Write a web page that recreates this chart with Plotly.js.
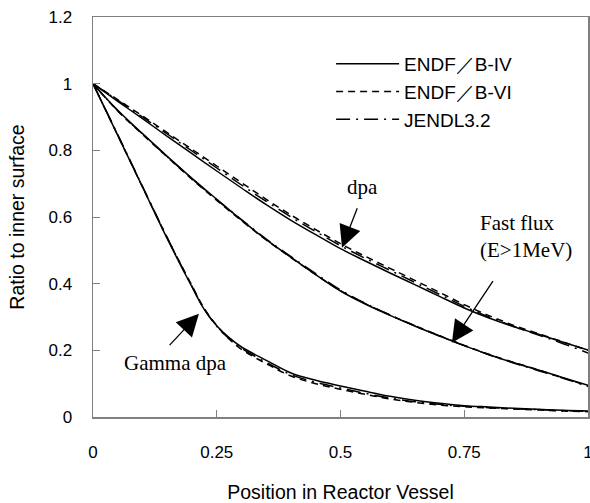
<!DOCTYPE html>
<html>
<head>
<meta charset="utf-8">
<script src="https://cdn.plot.ly/plotly-3.0.1.min.js"></script>
<style>html,body{margin:0;padding:0;background:#fff;}#chart{width:590px;height:503px;}</style>
</head>
<body>
<div id="chart"></div>
<script>
// Positions (normalized) for each quantity
const xDpa  = [0, 0.05, 0.1, 0.15, 0.2, 0.25, 0.3, 0.35, 0.4, 0.45, 0.5, 0.55, 0.6, 0.65, 0.7, 0.75, 0.8, 0.85, 0.9, 0.95, 1.0];
const xFlux = [0, 0.05, 0.1, 0.15, 0.2, 0.25, 0.3, 0.35, 0.4, 0.45, 0.5, 0.55, 0.6, 0.65, 0.7, 0.75, 0.8, 0.85, 0.9, 0.95, 1.0];
const xGamma = [0, 0.05, 0.1, 0.15, 0.2, 0.225, 0.25, 0.275, 0.3, 0.35, 0.4, 0.45, 0.5, 0.55, 0.6, 0.65, 0.7, 0.75, 0.8, 0.85, 0.9, 0.95, 1.0];

// dpa
const dpaB4  = [1, 0.947, 0.895, 0.842, 0.79, 0.738, 0.687, 0.637, 0.59, 0.547, 0.505, 0.468, 0.432, 0.397, 0.362, 0.327, 0.297, 0.271, 0.248, 0.224, 0.201];
const dpaB6  = [1, 0.952, 0.903, 0.853, 0.803, 0.753, 0.703, 0.653, 0.606, 0.562, 0.52, 0.482, 0.446, 0.41, 0.374, 0.337, 0.304, 0.275, 0.25, 0.225, 0.2];
const dpaJ32 = [1, 0.95, 0.9, 0.849, 0.798, 0.747, 0.696, 0.647, 0.6, 0.556, 0.514, 0.476, 0.44, 0.404, 0.368, 0.332, 0.3, 0.272, 0.246, 0.22, 0.192];

// Fast flux (E>1MeV)
const fluxB4  = [1, 0.92, 0.85, 0.782, 0.716, 0.653, 0.591, 0.532, 0.479, 0.427, 0.378, 0.339, 0.305, 0.273, 0.243, 0.214, 0.187, 0.163, 0.141, 0.118, 0.095];
const fluxB6  = [1, 0.918, 0.848, 0.78, 0.713, 0.65, 0.589, 0.531, 0.478, 0.427, 0.379, 0.34, 0.306, 0.274, 0.244, 0.215, 0.188, 0.164, 0.141, 0.117, 0.093];
const fluxJ32 = [1, 0.919, 0.849, 0.781, 0.715, 0.652, 0.592, 0.534, 0.481, 0.43, 0.381, 0.341, 0.306, 0.274, 0.243, 0.214, 0.187, 0.162, 0.139, 0.116, 0.092];

// Gamma dpa
const gamB4  = [1, 0.845, 0.69, 0.535, 0.39, 0.322, 0.274, 0.238, 0.21, 0.17, 0.132, 0.11, 0.093, 0.077, 0.062, 0.05, 0.041, 0.034, 0.03, 0.026, 0.023, 0.02, 0.018];
const gamB6  = [1, 0.845, 0.69, 0.537, 0.394, 0.325, 0.274, 0.234, 0.203, 0.16, 0.123, 0.1, 0.083, 0.068, 0.054, 0.044, 0.036, 0.031, 0.027, 0.024, 0.021, 0.018, 0.016];
const gamJ32 = [1, 0.847, 0.692, 0.538, 0.392, 0.323, 0.272, 0.235, 0.206, 0.164, 0.127, 0.104, 0.087, 0.071, 0.057, 0.046, 0.038, 0.032, 0.028, 0.025, 0.022, 0.019, 0.017];

const libNames = ['ENDF\uFF0FB-IV', 'ENDF\uFF0FB-VI', 'JENDL3.2'];
const xTicks = [0, 0.25, 0.5, 0.75, 1];
const xTickText = ['0', '0.25', '0.5', '0.75', '1'];
const yTicks = [0, 0.2, 0.4, 0.6, 0.8, 1, 1.2];
const yTickText = ['0', '0.2', '0.4', '0.6', '0.8', '1', '1.2'];

const dashes = ['solid', '7px,5px', '14px,6px,2px,6px'];
const groups = [
  {x: xDpa, ys: [dpaB4, dpaB6, dpaJ32], legend: true},
  {x: xFlux, ys: [fluxB4, fluxB6, fluxJ32], legend: false},
  {x: xGamma, ys: [gamB4, gamB6, gamJ32], legend: false}
];

const traces = [];
groups.forEach(g => {
  g.ys.forEach((y, i) => {
    traces.push({
      x: g.x, y: y, type: 'scatter', mode: 'lines',
      name: libNames[i], legendgroup: libNames[i], showlegend: g.legend,
      line: {color: '#000', width: 1.5, dash: dashes[i], shape: 'spline', smoothing: 1},
      hoverinfo: 'skip'
    });
  });
});

const serif = {family: 'Liberation Serif, Times New Roman, serif', size: 21, color: '#000'};
const arrowBase = {text: '', showarrow: true, arrowhead: 2, arrowsize: 3.4, arrowwidth: 1.3,
  arrowcolor: '#000', xref: 'x', yref: 'y', axref: 'x', ayref: 'y', standoff: 0, startstandoff: 0};

const layout = {
  width: 590, height: 503,
  paper_bgcolor: '#fff', plot_bgcolor: '#fff',
  margin: {l: 93, r: 2, t: 17, b: 86},
  font: {family: 'Liberation Sans, Arial, sans-serif', size: 17, color: '#000'},
  showlegend: true,
  legend: {
    x: 0.481, y: 0.93, xanchor: 'left', yanchor: 'top',
    bgcolor: 'rgba(0,0,0,0)', borderwidth: 0,
    font: {family: 'Liberation Sans, Arial, sans-serif', size: 19, color: '#000'},
    itemwidth: 63, traceorder: 'normal'
  },
  xaxis: {
    range: [0, 1], tickvals: xTicks, ticktext: xTickText,
    ticks: 'inside', ticklen: 7, tickcolor: '#808080', tickwidth: 1,
    showline: true, linecolor: '#808080', linewidth: 1.5, mirror: true,
    showgrid: false, zeroline: false, ticklabelstandoff: 19, ticklabeloverflow: 'allow',
    title: {text: 'Position in Reactor Vessel', font: {size: 19.5}, standoff: 26}
  },
  yaxis: {
    range: [0, 1.2], tickvals: yTicks, ticktext: yTickText,
    ticks: 'inside', ticklen: 7, tickcolor: '#808080', tickwidth: 1,
    showline: true, linecolor: '#808080', linewidth: 1.5, mirror: true,
    showgrid: false, zeroline: false, ticklabelstandoff: 16,
    title: {text: 'Ratio to inner surface', font: {size: 19.5}, standoff: 18}
  },
  annotations: [
    Object.assign({}, arrowBase, {x: 0.503, y: 0.508, ax: 0.535, ay: 0.631}),
    Object.assign({}, arrowBase, {x: 0.725, y: 0.223, ax: 0.810, ay: 0.412}),
    Object.assign({}, arrowBase, {x: 0.214, y: 0.310, ax: 0.152, ay: 0.211}),
    {text: 'dpa', x: 0.545, y: 0.691, xref: 'x', yref: 'y', showarrow: false, font: serif},
    {text: 'Fast flux<br>(E&gt;1MeV)', x: 0.778, y: 0.541, xref: 'x', yref: 'y', xanchor: 'left', align: 'left', showarrow: false, font: serif},
    {text: 'Gamma dpa', x: 0.166, y: 0.163, xref: 'x', yref: 'y', showarrow: false, font: serif}
  ]
};

Plotly.newPlot('chart', traces, layout, {displayModeBar: false, staticPlot: true});
</script>
</body>
</html>
